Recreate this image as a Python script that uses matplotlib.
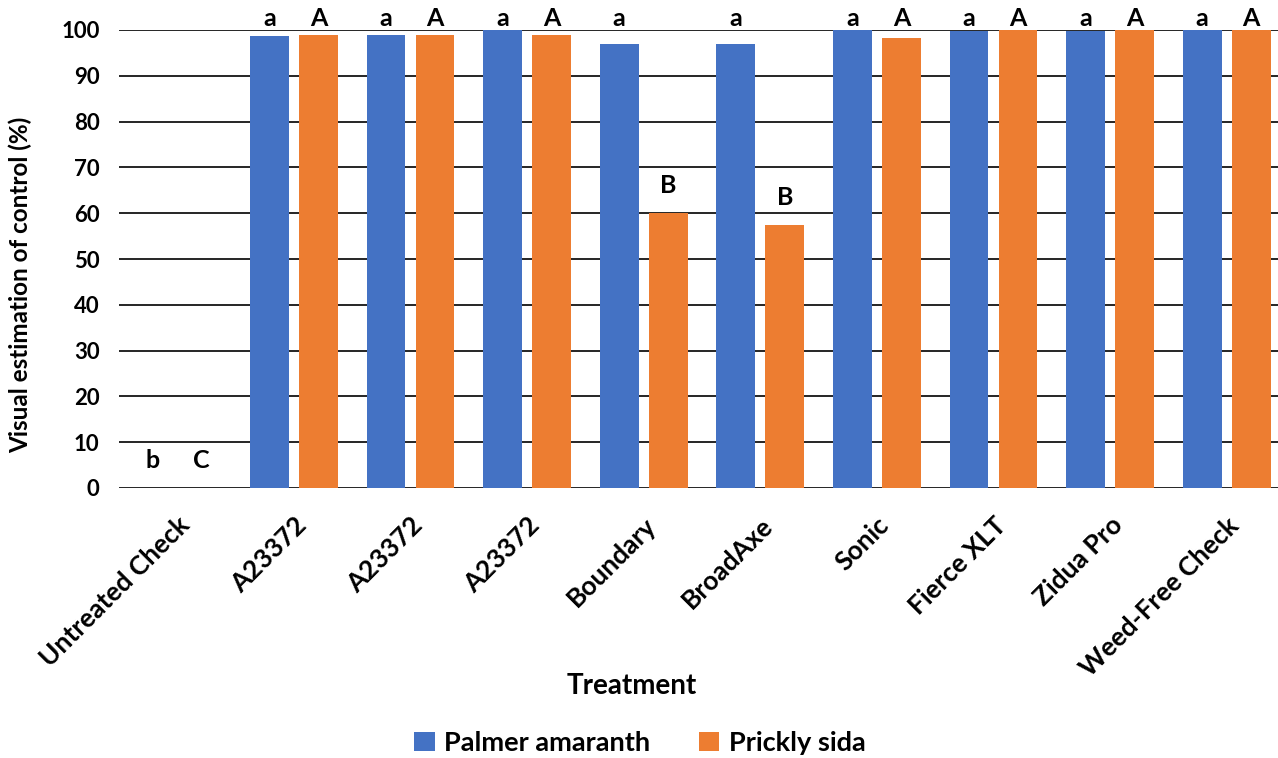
import matplotlib
matplotlib.use("Agg")
import matplotlib.pyplot as plt
import numpy as np

# data
treatments = ["Untreated Check", "A23372", "A23372", "A23372", "Boundary",
              "BroadAxe", "Sonic", "Fierce XLT", "Zidua Pro", "Weed-Free Check"]
palmer = [0, 98.6, 98.8, 100, 96.9, 97.0, 100, 99.7, 99.7, 100]
prickly = [0, 98.8, 98.8, 98.8, 60.0, 57.5, 98.2, 100, 100, 100]
palmer_letters = ["b", "a", "a", "a", "a", "a", "a", "a", "a", "a"]
prickly_letters = ["C", "A", "A", "A", "B", "B", "A", "A", "A", "A"]

BLUE = "#4472C4"
ORANGE = "#ED7D31"

plt.rcParams['font.family'] = ['Lato', 'DejaVu Sans']
plt.rcParams['font.weight'] = 'bold'

fig = plt.figure(figsize=(12.78, 7.58), dpi=100)
# axes spans a bit past the right edge, like the cropped original
ax = fig.add_axes([119 / 1278, 1 - 488 / 758, 1166 / 1278, 458 / 758])

x = np.arange(len(treatments))
off = 0.21
w = 0.334
ax.bar(x - off, palmer, width=w, color=BLUE, label="Palmer amaranth", zorder=3)
ax.bar(x + off, prickly, width=w, color=ORANGE, label="Prickly sida", zorder=3)

# significance letters above bars
for i in range(len(x)):
    ax.text(x[i] - off, min(palmer[i] + 6, 102.6), palmer_letters[i], ha="center", va="center",
            fontsize=18, fontweight="bold", clip_on=False)
    ax.text(x[i] + off, min(prickly[i] + 6, 102.6), prickly_letters[i], ha="center", va="center",
            fontsize=18, fontweight="bold", clip_on=False)

ax.set_xlim(-0.5, len(treatments) - 0.5)
ax.set_ylim(0, 100)
ax.set_yticks(np.arange(0, 101, 10))
ax.yaxis.grid(True, color="black", linewidth=1.2, zorder=0)
ax.set_axisbelow(True)
for s in ax.spines.values():
    s.set_visible(False)
ax.tick_params(axis="y", length=0, labelsize=16, pad=14)
ax.tick_params(axis="x", length=0, labelsize=19, pad=18)
ax.set_xticks(x)
ax.set_xticklabels(treatments, rotation=45, ha="right", rotation_mode="anchor")
for lab in ax.get_xticklabels() + ax.get_yticklabels():
    lab.set_fontweight("bold")

fig.text(20 / 1278, 1 - 285 / 758, "Visual estimation of control (%)", rotation=90,
         ha="center", va="center", fontsize=17.5, fontweight="bold")
fig.text(632 / 1278, 1 - 686 / 758, "Treatment", ha="center", va="center",
         fontsize=20, fontweight="bold")

fig.legend(loc="center", bbox_to_anchor=(640 / 1278, 1 - 743 / 758), ncol=2, frameon=False,
           handlelength=0.75, handleheight=0.75, columnspacing=1.8, handletextpad=0.35,
           prop={"weight": "bold", "size": 19.5})

fig.savefig("out.png", dpi=100)
